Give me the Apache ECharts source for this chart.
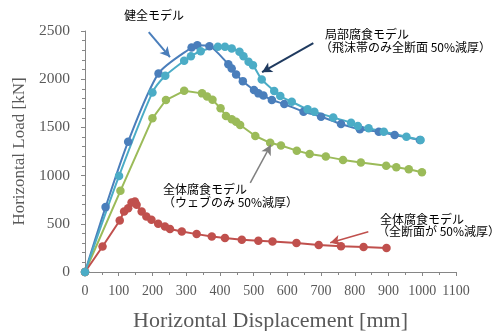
<!DOCTYPE html>
<html><head><meta charset="utf-8">
<script src="https://cdn.jsdelivr.net/npm/echarts@6/dist/echarts.min.js"></script>
<style>html,body{margin:0;padding:0;background:#fff}#c{width:502px;height:331px}</style>
</head><body><div id="c"></div>
<script>
// Data: [horizontal displacement (mm), horizontal load (kN)]
const healthy = [[0,0],[61,673],[128,1352],[218,2060],[316,2329],[333,2353],[369,2343],[425,2156],[435,2112],[448,2050],[468,1980],[501,1887],[514,1853],[529,1832],[554,1784],[591,1742],[648,1663],[700,1611],[759,1535],[815,1480],[871,1456],[918,1421],[993,1370]];
const localCorr = [[0,0],[101,997],[200,1863],[238,2035],[294,2191],[314,2239],[343,2290],[394,2336],[415,2336],[435,2319],[458,2284],[470,2239],[485,2180],[498,2146],[524,1998],[561,1877],[579,1825],[613,1766],[660,1687],[680,1663],[736,1602],[789,1549],[809,1514],[841,1490],[886,1456],[953,1404],[995,1370]];
const webCorr = [[0,0],[105,842],[200,1594],[240,1784],[294,1880],[347,1853],[362,1820],[378,1787],[402,1698],[418,1618],[435,1584],[448,1559],[460,1525],[505,1411],[549,1340],[581,1312],[628,1259],[666,1225],[714,1197],[765,1163],[818,1135],[893,1101],[923,1087],[960,1066],[999,1035]];
const fullCorr = [[0,0],[52,265],[103,534],[116,628],[128,662],[138,721],[148,731],[153,697],[168,628],[182,576],[197,541],[217,500],[237,472],[252,445],[287,421],[331,393],[376,369],[415,352],[465,334],[514,324],[556,317],[627,300],[693,280],[759,268],[826,259],[894,248]];
const xName = 'Horizontal Displacement [mm]';
const yName = 'Horizontal Load [kN]';
const noteHealthy = ['健全モデル'];
const noteLocal = ['局部腐食モデル', '（飛沫帯のみ全断面 50%減厚）'];
const noteWeb = ['全体腐食モデル', '（ウェブのみ 50%減厚）'];
const noteFull = ['全体腐食モデル', '（全断面が 50%減厚）'];
// arrow endpoints in data coordinates [from, to]
const arrowHealthy = [[189,2488],[252,2229]];
const arrowLocal = [[677,2374],[525,2073]];
const arrowWeb = [[490,924],[551,1318]];
const arrowFull = [[840,417],[727,303]];

const chart = echarts.init(document.getElementById('c'), null, {renderer:'canvas'});
const serif = "'Liberation Serif','DejaVu Serif',serif";
const jp = "'Noto Sans CJK JP',sans-serif";
function arrow(pts, color, w){
  return {silent:true, symbol:['none','arrow'], symbolSize:[8,10], label:{show:false},
    lineStyle:{color:color, width:w, type:'solid'},
    data:[[{coord:pts[0]},{coord:pts[1]}]]};
}
function ser(name, data, color, smooth, ml){
  return {name:name, type:'line', data:data, smooth:smooth, symbol:'circle', symbolSize:8.5,
    itemStyle:{color:color}, lineStyle:{color:color, width:2}, markLine:ml, animation:false, z:2};
}
function txt(str, left, top){
  return {type:'text', left:left, top:top, style:{text:str, font:'12px '+jp, fill:'#000'}};
}
const axisColor = '#868686';
chart.setOption({
  animation:false,
  grid:{left:85, right:46, top:31, bottom:59, containLabel:false, outerBoundsMode:'none'},
  xAxis:{type:'value', min:0, max:1100, interval:100,
    name:xName, nameLocation:'middle', nameGap:38,
    nameTextStyle:{fontFamily:serif, fontSize:22, color:'#595959'},
    axisLine:{show:true, lineStyle:{color:axisColor}},
    axisTick:{show:true, length:4, lineStyle:{color:axisColor}},
    minorTick:{show:true, splitNumber:2, length:3, lineStyle:{color:axisColor}},
    splitLine:{show:false},
    axisLabel:{fontFamily:serif, fontSize:14, color:'#595959', margin:12, formatter:function(v){return String(v);}}},
  yAxis:{type:'value', min:0, max:2500, interval:500,
    name:yName, nameLocation:'middle', nameGap:51,
    nameTextStyle:{fontFamily:serif, fontSize:17, color:'#595959'},
    axisLine:{show:true, lineStyle:{color:axisColor}},
    axisTick:{show:true, length:4, lineStyle:{color:axisColor}},
    minorTick:{show:true, splitNumber:5, length:3, lineStyle:{color:axisColor}},
    splitLine:{show:false},
    axisLabel:{fontFamily:serif, fontSize:15.5, color:'#595959', margin:15, formatter:function(v){return String(v);}}},
  series:[
    ser('健全モデル', healthy, '#4A7EBB', 0.25, arrow(arrowHealthy,'#4A7EBB',2)),
    ser('全体腐食モデル（ウェブ）', webCorr, '#9BBB59', false, arrow(arrowWeb,'#808080',1.5)),
    ser('全体腐食モデル（全断面）', fullCorr, '#C0504D', false, arrow(arrowFull,'#C0504D',1.5)),
    ser('局部腐食モデル', localCorr, '#4BACC6', 0.25, arrow(arrowLocal,'#1F3A5F',2))
  ],
  graphic:[
    txt(noteHealthy[0], 124, 9),
    txt(noteLocal[0], 325, 28),
    txt(noteLocal[1], 320, 41),
    txt(noteWeb[0], 163, 183),
    txt(noteWeb[1], 163, 196),
    txt(noteFull[0], 380, 213),
    txt(noteFull[1], 377, 225)
  ]
});
</script></body></html>
